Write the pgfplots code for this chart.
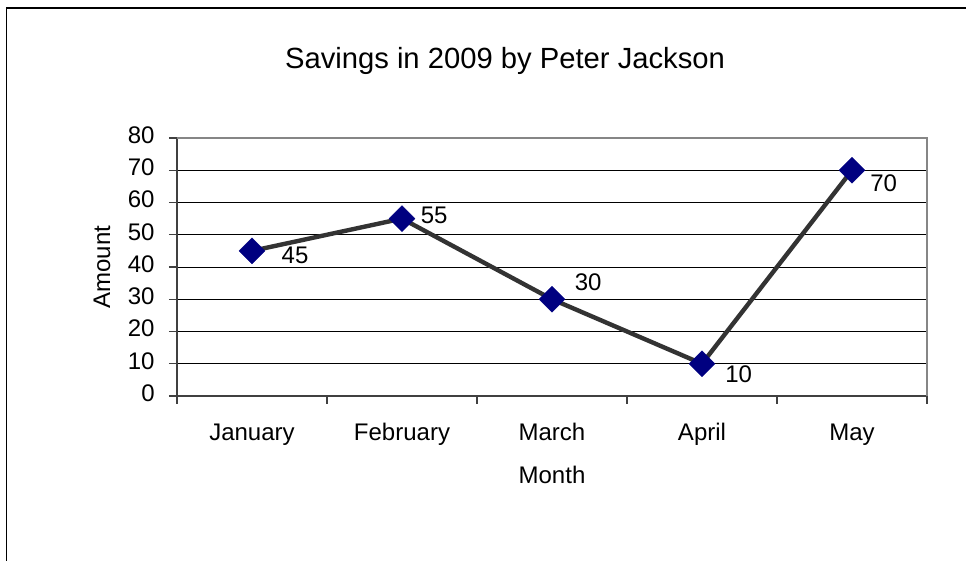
\documentclass[border=0pt]{standalone}
\usepackage{fontspec}
\setmainfont{Liberation Sans}
\usepackage{pgfplots}
\pgfplotsset{compat=1.18}
\usepackage{pgfplotstable}
\definecolor{navyblue}{HTML}{000080}
\definecolor{linegray}{HTML}{333333}
\definecolor{bordergray}{HTML}{868686}
\definecolor{axisgray}{HTML}{404040}

\pgfplotstableread{
x y dx dy
0 45 14.8 -2.3
1 55 9.35 1.4
2 30 11.35 8.5
3 10 11.65 -5.35
4 70 9.15 -6.25
}\savings

\begin{document}
\begin{tikzpicture}
\path[use as bounding box] (0,0) rectangle (483pt,280.5pt);
\draw[line width=0.7pt] (3.25pt,0) -- (3.25pt,276.5pt) -- (483pt,276.5pt);
\node[anchor=base, font=\fontsize{14.6}{17}\selectfont] at (252.5pt,246pt) {Savings in 2009 by Peter Jackson};
\begin{axis}[
  at={(88.5pt,82.5pt)}, anchor=south west,
  scale only axis, width=375pt, height=129pt,
  xmin=-0.5, xmax=4.5, ymin=0, ymax=80,
  clip=false,
  axis lines*=left,
  axis line style={draw=axisgray, line width=0.6pt},
  tick align=outside,
  major tick length=4pt,
  tick style={draw=axisgray, line width=0.6pt},
  xtick={-0.5,0.5,1.5,2.5,3.5,4.5},
  x tick label as interval,
  xticklabels={January,February,March,April,May},
  ytick={0,10,...,80},
  /pgf/number format/assume math mode=true,
  tick label style={font=\fontsize{12}{14}\selectfont},
  xticklabel style={anchor=base, yshift=-18.35pt},
  yticklabel style={anchor=east, inner sep=0pt, xshift=-7pt, yshift=1.5pt},
  ymajorgrids,
  grid style={black, line width=0.45pt},
  xlabel={Month},
  ylabel={Amount},
  label style={font=\fontsize{12}{14}\selectfont},
  xlabel style={at={(axis description cs:0.5,-0.3384)}, anchor=base},
  ylabel style={at={(axis description cs:-0.0893,0.5)}, anchor=base},
  after end axis/.code={
    \draw[bordergray, line width=0.6pt] (rel axis cs:0,1) -- (rel axis cs:1,1) -- (rel axis cs:1,0);
  },
]
\addplot[linegray, line width=2.2pt,
  mark=square*, mark size=4.6pt,
  mark options={rotate=45, fill=navyblue, draw=navyblue, line width=0.1pt},
  nodes near coords,
  visualization depends on={\thisrow{dx} \as \dx},
  visualization depends on={\thisrow{dy} \as \dy},
  every node near coord/.append style={anchor=west, inner sep=0pt, text=black,
    font=\fontsize{12}{14}\selectfont, xshift=\dx*1pt, yshift=\dy*1pt},
] table[x=x, y=y] {\savings};
\end{axis}
\end{tikzpicture}
\end{document}
